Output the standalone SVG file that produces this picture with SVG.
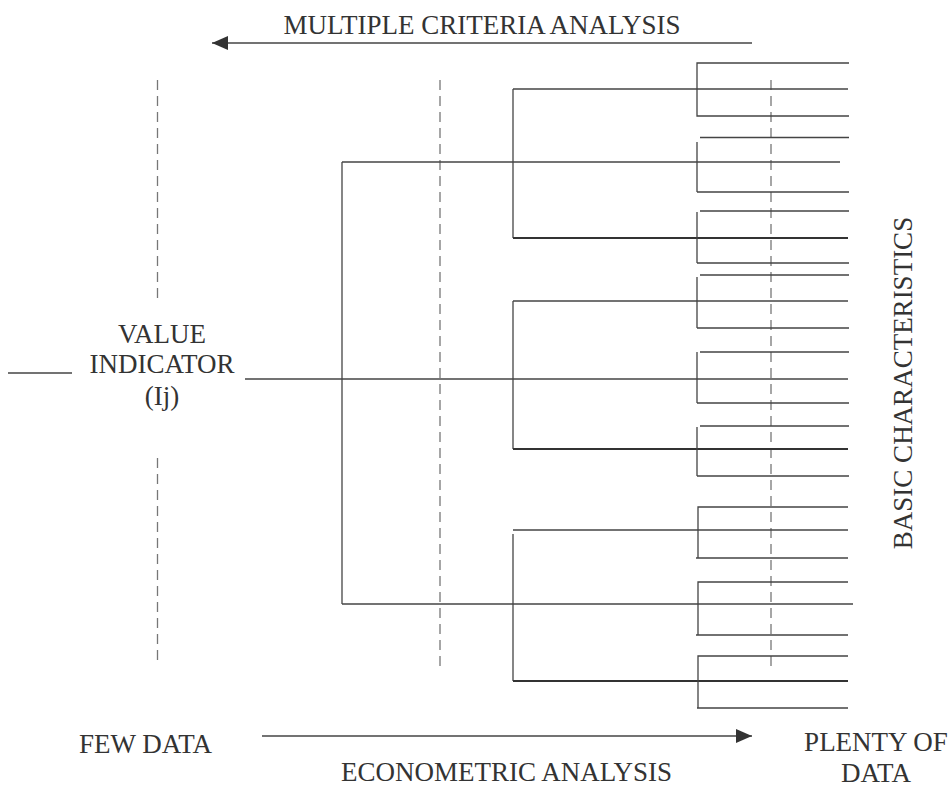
<svg xmlns="http://www.w3.org/2000/svg" width="950" height="787" viewBox="0 0 950 787">
<defs>
<marker id="ah" markerWidth="16" markerHeight="14" refX="16" refY="7" orient="auto" markerUnits="userSpaceOnUse">
<polygon points="0,0 16,7 0,14" fill="#333"/>
</marker>
<style>
.t{font-family:"Liberation Serif","Times New Roman",serif;font-size:27px;fill:#333}
.c{text-anchor:middle}
.ln{stroke:#444;stroke-width:1.3;fill:none}
.tk{stroke:#333;stroke-width:2;fill:none}
.ds{stroke:#777;stroke-width:1.3;stroke-dasharray:10,6;fill:none}
.ar{stroke:#444;stroke-width:1.3;fill:none;marker-end:url(#ah)}
</style>
</defs>
<rect width="950" height="787" fill="#fff"/>

<g id="guides">
<line class="ds" x1="157.5" y1="80" x2="157.5" y2="300"/>
<line class="ds" x1="157.5" y1="458" x2="157.5" y2="664"/>
<line class="ds" x1="440" y1="80" x2="440" y2="668"/>
<line class="ds" x1="771" y1="80" x2="771" y2="670"/>
</g>

<g id="connectors">
<line class="ar" x1="752" y1="43" x2="212" y2="43"/>
<line class="ar" x1="262" y1="736" x2="752" y2="736"/>
<line class="ln" x1="8" y1="373" x2="72" y2="373"/>
<line class="ln" x1="245" y1="379" x2="848" y2="379"/>
<line class="ln" x1="342" y1="162" x2="342" y2="604"/>
<line class="ln" x1="342" y1="162" x2="840" y2="162"/>
<line class="ln" x1="342" y1="604" x2="853" y2="604"/>
<line class="ln" x1="513" y1="89" x2="513" y2="238"/>
<line class="ln" x1="513" y1="89" x2="848" y2="89"/>
<line class="tk" x1="513" y1="238" x2="848" y2="238"/>
<line class="ln" x1="513" y1="301" x2="513" y2="449"/>
<line class="ln" x1="513" y1="301" x2="848" y2="301"/>
<line class="tk" x1="513" y1="449" x2="848" y2="449"/>
<line class="ln" x1="513" y1="534" x2="513" y2="681"/>
<line class="ln" x1="513" y1="530" x2="848" y2="530"/>
<line class="tk" x1="513" y1="681" x2="848" y2="681"/>
<path class="ln" d="M849,63 H697 V116 H849"/>
<path class="ln" d="M849,137.5 H700 M697,142 V192 M697,192 H849"/>
<path class="ln" d="M849,211 H700 M697,212 V263 M697,263 H849"/>
<path class="ln" d="M849,275 H700 M697,277 V328 M697,328 H849"/>
<path class="ln" d="M849,352 H700 M697,352 V403 M697,403 H849"/>
<path class="ln" d="M849,426 H700 M697,427 V476 M697,476 H849"/>
<path class="ln" d="M848,507 H698 V558 M696,558 H848"/>
<path class="ln" d="M848,582 H698 V635 M696,635 H848"/>
<path class="ln" d="M848,656 H698 V708 M697,708 H848"/>
</g>

<g id="mca-label"><text class="t c" x="482" y="34">MULTIPLE CRITERIA ANALYSIS</text></g>
<g id="value-indicator">
<text class="t c" x="162" y="343">VALUE</text>
<text class="t c" x="162" y="373">INDICATOR</text>
<text class="t c" x="162" y="405">(Ij)</text>
</g>
<g id="basic-characteristics"><text class="t c" transform="translate(912,383) rotate(-90)">BASIC CHARACTERISTICS</text></g>
<g id="few-data"><text class="t" x="79" y="753">FEW DATA</text></g>
<g id="econometric-label"><text class="t" x="341" y="781">ECONOMETRIC ANALYSIS</text></g>
<g id="plenty-data">
<text class="t c" x="876" y="751">PLENTY OF</text>
<text class="t c" x="876" y="782">DATA</text>
</g>
</svg>
